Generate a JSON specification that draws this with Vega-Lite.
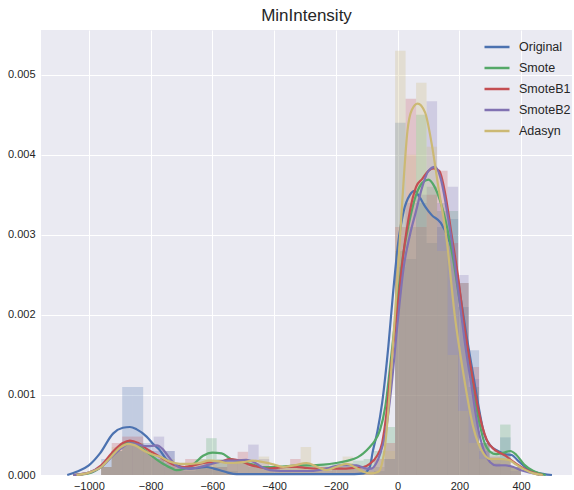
{
"$schema":"https://vega.github.io/schema/vega-lite/v6.json",
"width":531,"height":445,
"autosize":{"type":"none"},
"padding":{"left":41,"top":30,"right":2,"bottom":15},
"background":"white",
"title":{"text":"MinIntensity","fontSize":17,"font":"Liberation Sans","fontWeight":"normal","color":"#262626","offset":5},
"config":{"view":{"fill":"#EAEAF2","stroke":null},
"axis":{"grid":true,"gridColor":"white","gridWidth":1,"domain":false,"ticks":false,"labelFont":"Liberation Sans","labelFontSize":11,"labelColor":"#262626","title":null},
"legend":{"title":null,"orient":"none","legendX":442,"legendY":3,"symbolType":"stroke","symbolStrokeWidth":2.5,"symbolSize":625,"symbolOpacity":1,"labelFontSize":12.5,"labelFont":"Liberation Sans","labelColor":"#262626","rowPadding":-1,"labelOffset":8}},
"datasets":{
"hist":[
{"s":"Original","a":-960,"b":-926,"d":0.0002},{"s":"Original","a":-926,"b":-892,"d":0.0003},{"s":"Original","a":-892,"b":-858,"d":0.0011},{"s":"Original","a":-858,"b":-824,"d":0.0011},{"s":"Original","a":-824,"b":-790,"d":0.0004},{"s":"Original","a":-790,"b":-756,"d":0.0003},{"s":"Original","a":-756,"b":-722,"d":0.0003},{"s":"Original","a":-722,"b":-688,"d":0.0001},{"s":"Original","a":-688,"b":-654,"d":0.00005},{"s":"Original","a":-654,"b":-620,"d":0.0001},{"s":"Original","a":-620,"b":-586,"d":0.0001},{"s":"Original","a":-586,"b":-552,"d":0.0001},{"s":"Original","a":-552,"b":-518,"d":0.00005},{"s":"Original","a":-76,"b":-42,"d":0.00005},{"s":"Original","a":-42,"b":-8,"d":0.0002},{"s":"Original","a":-8,"b":26,"d":0.0044},{"s":"Original","a":26,"b":60,"d":0.0027},{"s":"Original","a":60,"b":94,"d":0.0034},{"s":"Original","a":94,"b":128,"d":0.0029},{"s":"Original","a":128,"b":162,"d":0.0031},{"s":"Original","a":162,"b":196,"d":0.0032},{"s":"Original","a":196,"b":230,"d":0.0021},{"s":"Original","a":230,"b":264,"d":0.00156},{"s":"Original","a":264,"b":298,"d":0.0004},{"s":"Original","a":298,"b":332,"d":0.0002},{"s":"Original","a":332,"b":366,"d":0.00047},{"s":"Original","a":366,"b":400,"d":0.0001},
{"s":"Smote","a":-960,"b":-926,"d":0.0001},{"s":"Smote","a":-926,"b":-892,"d":0.0003},{"s":"Smote","a":-892,"b":-858,"d":0.0004},{"s":"Smote","a":-858,"b":-824,"d":0.0004},{"s":"Smote","a":-824,"b":-790,"d":0.0003},{"s":"Smote","a":-790,"b":-756,"d":0.0002},{"s":"Smote","a":-756,"b":-722,"d":0.0001},{"s":"Smote","a":-722,"b":-688,"d":0.00005},{"s":"Smote","a":-688,"b":-654,"d":0.0001},{"s":"Smote","a":-654,"b":-620,"d":0.0002},{"s":"Smote","a":-620,"b":-586,"d":0.00046},{"s":"Smote","a":-586,"b":-552,"d":0.0002},{"s":"Smote","a":-552,"b":-518,"d":0.0002},{"s":"Smote","a":-518,"b":-484,"d":0.00015},{"s":"Smote","a":-484,"b":-450,"d":0.0001},{"s":"Smote","a":-450,"b":-416,"d":0.0001},{"s":"Smote","a":-416,"b":-382,"d":0.0001},{"s":"Smote","a":-382,"b":-348,"d":0.0001},{"s":"Smote","a":-348,"b":-314,"d":0.0001},{"s":"Smote","a":-314,"b":-280,"d":0.00012},{"s":"Smote","a":-280,"b":-246,"d":0.00012},{"s":"Smote","a":-246,"b":-212,"d":0.00012},{"s":"Smote","a":-212,"b":-178,"d":0.00015},{"s":"Smote","a":-178,"b":-144,"d":0.00015},{"s":"Smote","a":-144,"b":-110,"d":0.00018},{"s":"Smote","a":-110,"b":-76,"d":0.0002},{"s":"Smote","a":-76,"b":-42,"d":0.0003},{"s":"Smote","a":-42,"b":-8,"d":0.0006},{"s":"Smote","a":-8,"b":26,"d":0.0028},{"s":"Smote","a":26,"b":60,"d":0.0031},{"s":"Smote","a":60,"b":94,"d":0.0045},{"s":"Smote","a":94,"b":128,"d":0.0036},{"s":"Smote","a":128,"b":162,"d":0.0033},{"s":"Smote","a":162,"b":196,"d":0.0033},{"s":"Smote","a":196,"b":230,"d":0.0024},{"s":"Smote","a":230,"b":264,"d":0.0011},{"s":"Smote","a":264,"b":298,"d":0.0004},{"s":"Smote","a":298,"b":332,"d":0.0003},{"s":"Smote","a":332,"b":366,"d":0.00063},{"s":"Smote","a":366,"b":400,"d":0.0001},
{"s":"SmoteB1","a":-960,"b":-926,"d":0.0001},{"s":"SmoteB1","a":-926,"b":-892,"d":0.0004},{"s":"SmoteB1","a":-892,"b":-858,"d":0.00048},{"s":"SmoteB1","a":-858,"b":-824,"d":0.00048},{"s":"SmoteB1","a":-824,"b":-790,"d":0.0003},{"s":"SmoteB1","a":-790,"b":-756,"d":0.0002},{"s":"SmoteB1","a":-756,"b":-722,"d":0.00015},{"s":"SmoteB1","a":-722,"b":-688,"d":0.0001},{"s":"SmoteB1","a":-688,"b":-654,"d":0.0002},{"s":"SmoteB1","a":-654,"b":-620,"d":0.00015},{"s":"SmoteB1","a":-620,"b":-586,"d":0.00015},{"s":"SmoteB1","a":-586,"b":-552,"d":0.0001},{"s":"SmoteB1","a":-552,"b":-518,"d":0.00015},{"s":"SmoteB1","a":-518,"b":-484,"d":0.00029},{"s":"SmoteB1","a":-484,"b":-450,"d":0.00015},{"s":"SmoteB1","a":-450,"b":-416,"d":0.0001},{"s":"SmoteB1","a":-416,"b":-382,"d":0.0001},{"s":"SmoteB1","a":-382,"b":-348,"d":0.0001},{"s":"SmoteB1","a":-348,"b":-314,"d":0.0002},{"s":"SmoteB1","a":-314,"b":-280,"d":0.0001},{"s":"SmoteB1","a":-280,"b":-246,"d":0.0001},{"s":"SmoteB1","a":-246,"b":-212,"d":0.00008},{"s":"SmoteB1","a":-212,"b":-178,"d":0.0001},{"s":"SmoteB1","a":-178,"b":-144,"d":0.00008},{"s":"SmoteB1","a":-144,"b":-110,"d":0.0001},{"s":"SmoteB1","a":-110,"b":-76,"d":0.0001},{"s":"SmoteB1","a":-76,"b":-42,"d":0.0002},{"s":"SmoteB1","a":-42,"b":-8,"d":0.0004},{"s":"SmoteB1","a":-8,"b":26,"d":0.0031},{"s":"SmoteB1","a":26,"b":60,"d":0.0047},{"s":"SmoteB1","a":60,"b":94,"d":0.0031},{"s":"SmoteB1","a":94,"b":128,"d":0.0035},{"s":"SmoteB1","a":128,"b":162,"d":0.0038},{"s":"SmoteB1","a":162,"b":196,"d":0.0029},{"s":"SmoteB1","a":196,"b":230,"d":0.0024},{"s":"SmoteB1","a":230,"b":264,"d":0.00135},{"s":"SmoteB1","a":264,"b":298,"d":0.0004},{"s":"SmoteB1","a":298,"b":332,"d":0.00023},{"s":"SmoteB1","a":332,"b":366,"d":0.0002},{"s":"SmoteB1","a":366,"b":400,"d":0.0001},
{"s":"SmoteB2","a":-960,"b":-926,"d":0.0001},{"s":"SmoteB2","a":-926,"b":-892,"d":0.0003},{"s":"SmoteB2","a":-892,"b":-858,"d":0.0004},{"s":"SmoteB2","a":-858,"b":-824,"d":0.0004},{"s":"SmoteB2","a":-824,"b":-790,"d":0.0003},{"s":"SmoteB2","a":-790,"b":-756,"d":0.00048},{"s":"SmoteB2","a":-756,"b":-722,"d":0.0003},{"s":"SmoteB2","a":-722,"b":-688,"d":0.0001},{"s":"SmoteB2","a":-688,"b":-654,"d":0.0001},{"s":"SmoteB2","a":-654,"b":-620,"d":0.0001},{"s":"SmoteB2","a":-620,"b":-586,"d":0.0001},{"s":"SmoteB2","a":-586,"b":-552,"d":0.00015},{"s":"SmoteB2","a":-552,"b":-518,"d":0.00015},{"s":"SmoteB2","a":-518,"b":-484,"d":0.0002},{"s":"SmoteB2","a":-484,"b":-450,"d":0.00038},{"s":"SmoteB2","a":-450,"b":-416,"d":0.0002},{"s":"SmoteB2","a":-416,"b":-382,"d":0.0001},{"s":"SmoteB2","a":-382,"b":-348,"d":0.00005},{"s":"SmoteB2","a":-348,"b":-314,"d":0.00005},{"s":"SmoteB2","a":-314,"b":-280,"d":0.00005},{"s":"SmoteB2","a":-280,"b":-246,"d":0.00005},{"s":"SmoteB2","a":-246,"b":-212,"d":0.00005},{"s":"SmoteB2","a":-212,"b":-178,"d":0.0001},{"s":"SmoteB2","a":-178,"b":-144,"d":0.0001},{"s":"SmoteB2","a":-144,"b":-110,"d":0.0001},{"s":"SmoteB2","a":-110,"b":-76,"d":0.00008},{"s":"SmoteB2","a":-76,"b":-42,"d":0.0001},{"s":"SmoteB2","a":-42,"b":-8,"d":0.0002},{"s":"SmoteB2","a":-8,"b":26,"d":0.0026},{"s":"SmoteB2","a":26,"b":60,"d":0.0034},{"s":"SmoteB2","a":60,"b":94,"d":0.0035},{"s":"SmoteB2","a":94,"b":128,"d":0.00467},{"s":"SmoteB2","a":128,"b":162,"d":0.0034},{"s":"SmoteB2","a":162,"b":196,"d":0.0036},{"s":"SmoteB2","a":196,"b":230,"d":0.0025},{"s":"SmoteB2","a":230,"b":264,"d":0.0012},{"s":"SmoteB2","a":264,"b":298,"d":0.0003},{"s":"SmoteB2","a":298,"b":332,"d":0.00015},{"s":"SmoteB2","a":332,"b":366,"d":0.0001},{"s":"SmoteB2","a":366,"b":400,"d":0.00005},
{"s":"Adasyn","a":-960,"b":-926,"d":0.0001},{"s":"Adasyn","a":-926,"b":-892,"d":0.00035},{"s":"Adasyn","a":-892,"b":-858,"d":0.0004},{"s":"Adasyn","a":-858,"b":-824,"d":0.0004},{"s":"Adasyn","a":-824,"b":-790,"d":0.0003},{"s":"Adasyn","a":-790,"b":-756,"d":0.0002},{"s":"Adasyn","a":-756,"b":-722,"d":0.0002},{"s":"Adasyn","a":-722,"b":-688,"d":0.00015},{"s":"Adasyn","a":-688,"b":-654,"d":0.00015},{"s":"Adasyn","a":-654,"b":-620,"d":0.0002},{"s":"Adasyn","a":-620,"b":-586,"d":0.0002},{"s":"Adasyn","a":-586,"b":-552,"d":0.00015},{"s":"Adasyn","a":-552,"b":-518,"d":0.00015},{"s":"Adasyn","a":-518,"b":-484,"d":0.0002},{"s":"Adasyn","a":-484,"b":-450,"d":0.00015},{"s":"Adasyn","a":-450,"b":-416,"d":0.00023},{"s":"Adasyn","a":-416,"b":-382,"d":0.0001},{"s":"Adasyn","a":-382,"b":-348,"d":0.0001},{"s":"Adasyn","a":-348,"b":-314,"d":0.0001},{"s":"Adasyn","a":-314,"b":-280,"d":0.00035},{"s":"Adasyn","a":-280,"b":-246,"d":0.0001},{"s":"Adasyn","a":-246,"b":-212,"d":0.00005},{"s":"Adasyn","a":-212,"b":-178,"d":0.0001},{"s":"Adasyn","a":-178,"b":-144,"d":0.00023},{"s":"Adasyn","a":-144,"b":-110,"d":0.0001},{"s":"Adasyn","a":-110,"b":-76,"d":0.00005},{"s":"Adasyn","a":-76,"b":-42,"d":0.0001},{"s":"Adasyn","a":-42,"b":-8,"d":0.0003},{"s":"Adasyn","a":-8,"b":26,"d":0.0053},{"s":"Adasyn","a":26,"b":60,"d":0.004},{"s":"Adasyn","a":60,"b":94,"d":0.0049},{"s":"Adasyn","a":94,"b":128,"d":0.0041},{"s":"Adasyn","a":128,"b":162,"d":0.0028},{"s":"Adasyn","a":162,"b":196,"d":0.0015},{"s":"Adasyn","a":196,"b":230,"d":0.0008},{"s":"Adasyn","a":230,"b":264,"d":0.0004},{"s":"Adasyn","a":264,"b":298,"d":0.0002},{"s":"Adasyn","a":298,"b":332,"d":0.0002},{"s":"Adasyn","a":332,"b":366,"d":0.0002},{"s":"Adasyn","a":366,"b":400,"d":0.0001}
],
"kde":[
{"s":"Original","x":-1070,"y":0},{"s":"Original","x":-1040,"y":0.00004},{"s":"Original","x":-1000,"y":0.00012},{"s":"Original","x":-964,"y":0.00027},{"s":"Original","x":-921,"y":0.00052},{"s":"Original","x":-890,"y":0.00059},{"s":"Original","x":-867,"y":0.0006},{"s":"Original","x":-845,"y":0.00057},{"s":"Original","x":-813,"y":0.00048},{"s":"Original","x":-790,"y":0.00038},{"s":"Original","x":-770,"y":0.00031},{"s":"Original","x":-750,"y":0.0002},{"s":"Original","x":-727,"y":0.00014},{"s":"Original","x":-700,"y":0.0001},{"s":"Original","x":-673,"y":0.00008},{"s":"Original","x":-645,"y":0.00009},{"s":"Original","x":-619,"y":0.0001},{"s":"Original","x":-595,"y":0.00008},{"s":"Original","x":-575,"y":0.00006},{"s":"Original","x":-550,"y":0.00003},{"s":"Original","x":-521,"y":0.00001},{"s":"Original","x":-450,"y":0.00001},{"s":"Original","x":-300,"y":0.00001},{"s":"Original","x":-200,"y":0.00001},{"s":"Original","x":-140,"y":0.00001},{"s":"Original","x":-110,"y":0.00002},{"s":"Original","x":-90,"y":0.0001},{"s":"Original","x":-80,"y":0.0003},{"s":"Original","x":-65,"y":0.00055},{"s":"Original","x":-50,"y":0.0009},{"s":"Original","x":-30,"y":0.0016},{"s":"Original","x":-14,"y":0.0023},{"s":"Original","x":2,"y":0.0029},{"s":"Original","x":20,"y":0.0033},{"s":"Original","x":40,"y":0.0035},{"s":"Original","x":55,"y":0.00355},{"s":"Original","x":70,"y":0.00348},{"s":"Original","x":90,"y":0.00335},{"s":"Original","x":110,"y":0.00325},{"s":"Original","x":140,"y":0.00315},{"s":"Original","x":165,"y":0.00295},{"s":"Original","x":185,"y":0.0027},{"s":"Original","x":205,"y":0.0022},{"s":"Original","x":225,"y":0.0017},{"s":"Original","x":245,"y":0.00125},{"s":"Original","x":265,"y":0.0008},{"s":"Original","x":280,"y":0.00052},{"s":"Original","x":300,"y":0.00037},{"s":"Original","x":325,"y":0.0003},{"s":"Original","x":350,"y":0.00026},{"s":"Original","x":370,"y":0.00025},{"s":"Original","x":390,"y":0.00018},{"s":"Original","x":420,"y":0.00008},{"s":"Original","x":450,"y":0.00003},{"s":"Original","x":500,"y":0},
{"s":"Smote","x":-1050,"y":0},{"s":"Smote","x":-1000,"y":0.00002},{"s":"Smote","x":-960,"y":0.0001},{"s":"Smote","x":-920,"y":0.00027},{"s":"Smote","x":-890,"y":0.00037},{"s":"Smote","x":-867,"y":0.00041},{"s":"Smote","x":-840,"y":0.00037},{"s":"Smote","x":-800,"y":0.00025},{"s":"Smote","x":-760,"y":0.00014},{"s":"Smote","x":-730,"y":0.00008},{"s":"Smote","x":-716,"y":0.00006},{"s":"Smote","x":-690,"y":0.00008},{"s":"Smote","x":-660,"y":0.00014},{"s":"Smote","x":-630,"y":0.00024},{"s":"Smote","x":-600,"y":0.00028},{"s":"Smote","x":-570,"y":0.00027},{"s":"Smote","x":-540,"y":0.0002},{"s":"Smote","x":-510,"y":0.00017},{"s":"Smote","x":-478,"y":0.00014},{"s":"Smote","x":-440,"y":0.0001},{"s":"Smote","x":-400,"y":0.0001},{"s":"Smote","x":-360,"y":0.00011},{"s":"Smote","x":-320,"y":0.00012},{"s":"Smote","x":-280,"y":0.00012},{"s":"Smote","x":-240,"y":0.00013},{"s":"Smote","x":-200,"y":0.00015},{"s":"Smote","x":-160,"y":0.00018},{"s":"Smote","x":-130,"y":0.00022},{"s":"Smote","x":-111,"y":0.00027},{"s":"Smote","x":-90,"y":0.00035},{"s":"Smote","x":-75,"y":0.00042},{"s":"Smote","x":-57,"y":0.00056},{"s":"Smote","x":-40,"y":0.00085},{"s":"Smote","x":-20,"y":0.0015},{"s":"Smote","x":0,"y":0.0022},{"s":"Smote","x":20,"y":0.0028},{"s":"Smote","x":40,"y":0.0032},{"s":"Smote","x":60,"y":0.0035},{"s":"Smote","x":80,"y":0.00365},{"s":"Smote","x":100,"y":0.00369},{"s":"Smote","x":120,"y":0.0036},{"s":"Smote","x":140,"y":0.0034},{"s":"Smote","x":160,"y":0.0031},{"s":"Smote","x":180,"y":0.0027},{"s":"Smote","x":200,"y":0.0022},{"s":"Smote","x":220,"y":0.0017},{"s":"Smote","x":240,"y":0.0012},{"s":"Smote","x":260,"y":0.00075},{"s":"Smote","x":280,"y":0.00042},{"s":"Smote","x":300,"y":0.00029},{"s":"Smote","x":320,"y":0.00026},{"s":"Smote","x":345,"y":0.00028},{"s":"Smote","x":365,"y":0.0003},{"s":"Smote","x":385,"y":0.00025},{"s":"Smote","x":410,"y":0.00013},{"s":"Smote","x":440,"y":0.00005},{"s":"Smote","x":480,"y":0},
{"s":"SmoteB1","x":-1050,"y":0},{"s":"SmoteB1","x":-1000,"y":0.00003},{"s":"SmoteB1","x":-960,"y":0.00012},{"s":"SmoteB1","x":-920,"y":0.0003},{"s":"SmoteB1","x":-890,"y":0.0004},{"s":"SmoteB1","x":-867,"y":0.00043},{"s":"SmoteB1","x":-840,"y":0.0004},{"s":"SmoteB1","x":-810,"y":0.00032},{"s":"SmoteB1","x":-780,"y":0.00025},{"s":"SmoteB1","x":-750,"y":0.00018},{"s":"SmoteB1","x":-720,"y":0.00012},{"s":"SmoteB1","x":-690,"y":0.0001},{"s":"SmoteB1","x":-660,"y":0.00012},{"s":"SmoteB1","x":-630,"y":0.00015},{"s":"SmoteB1","x":-600,"y":0.00016},{"s":"SmoteB1","x":-570,"y":0.00017},{"s":"SmoteB1","x":-543,"y":0.0002},{"s":"SmoteB1","x":-510,"y":0.00018},{"s":"SmoteB1","x":-480,"y":0.00013},{"s":"SmoteB1","x":-450,"y":0.0001},{"s":"SmoteB1","x":-420,"y":0.00008},{"s":"SmoteB1","x":-390,"y":0.00009},{"s":"SmoteB1","x":-360,"y":0.0001},{"s":"SmoteB1","x":-327,"y":0.0001},{"s":"SmoteB1","x":-300,"y":0.00009},{"s":"SmoteB1","x":-260,"y":0.00008},{"s":"SmoteB1","x":-219,"y":0.00008},{"s":"SmoteB1","x":-180,"y":0.00008},{"s":"SmoteB1","x":-140,"y":0.00009},{"s":"SmoteB1","x":-111,"y":0.0001},{"s":"SmoteB1","x":-90,"y":0.00014},{"s":"SmoteB1","x":-68,"y":0.00023},{"s":"SmoteB1","x":-50,"y":0.0004},{"s":"SmoteB1","x":-35,"y":0.0008},{"s":"SmoteB1","x":-20,"y":0.0014},{"s":"SmoteB1","x":0,"y":0.0021},{"s":"SmoteB1","x":20,"y":0.0028},{"s":"SmoteB1","x":40,"y":0.0033},{"s":"SmoteB1","x":60,"y":0.0036},{"s":"SmoteB1","x":80,"y":0.0037},{"s":"SmoteB1","x":100,"y":0.0038},{"s":"SmoteB1","x":116,"y":0.00383},{"s":"SmoteB1","x":135,"y":0.0038},{"s":"SmoteB1","x":155,"y":0.0035},{"s":"SmoteB1","x":175,"y":0.003},{"s":"SmoteB1","x":195,"y":0.0025},{"s":"SmoteB1","x":215,"y":0.0019},{"s":"SmoteB1","x":235,"y":0.0014},{"s":"SmoteB1","x":255,"y":0.00095},{"s":"SmoteB1","x":275,"y":0.0006},{"s":"SmoteB1","x":290,"y":0.00043},{"s":"SmoteB1","x":310,"y":0.00033},{"s":"SmoteB1","x":330,"y":0.00028},{"s":"SmoteB1","x":350,"y":0.00024},{"s":"SmoteB1","x":370,"y":0.00018},{"s":"SmoteB1","x":400,"y":0.0001},{"s":"SmoteB1","x":430,"y":0.00004},{"s":"SmoteB1","x":470,"y":0},
{"s":"SmoteB2","x":-1050,"y":0},{"s":"SmoteB2","x":-1000,"y":0.00003},{"s":"SmoteB2","x":-960,"y":0.0001},{"s":"SmoteB2","x":-920,"y":0.00025},{"s":"SmoteB2","x":-890,"y":0.00035},{"s":"SmoteB2","x":-867,"y":0.0004},{"s":"SmoteB2","x":-840,"y":0.00038},{"s":"SmoteB2","x":-810,"y":0.00036},{"s":"SmoteB2","x":-780,"y":0.00037},{"s":"SmoteB2","x":-760,"y":0.00032},{"s":"SmoteB2","x":-740,"y":0.00022},{"s":"SmoteB2","x":-720,"y":0.00013},{"s":"SmoteB2","x":-700,"y":0.00009},{"s":"SmoteB2","x":-670,"y":0.00008},{"s":"SmoteB2","x":-640,"y":0.0001},{"s":"SmoteB2","x":-610,"y":0.00013},{"s":"SmoteB2","x":-580,"y":0.00016},{"s":"SmoteB2","x":-550,"y":0.00018},{"s":"SmoteB2","x":-520,"y":0.00018},{"s":"SmoteB2","x":-490,"y":0.00019},{"s":"SmoteB2","x":-470,"y":0.00017},{"s":"SmoteB2","x":-440,"y":0.0001},{"s":"SmoteB2","x":-413,"y":0.00006},{"s":"SmoteB2","x":-380,"y":0.00005},{"s":"SmoteB2","x":-327,"y":0.00005},{"s":"SmoteB2","x":-280,"y":0.00005},{"s":"SmoteB2","x":-230,"y":0.00008},{"s":"SmoteB2","x":-187,"y":0.00012},{"s":"SmoteB2","x":-133,"y":0.00012},{"s":"SmoteB2","x":-100,"y":0.00008},{"s":"SmoteB2","x":-85,"y":0.00008},{"s":"SmoteB2","x":-70,"y":0.00014},{"s":"SmoteB2","x":-55,"y":0.00028},{"s":"SmoteB2","x":-40,"y":0.0005},{"s":"SmoteB2","x":-20,"y":0.0011},{"s":"SmoteB2","x":0,"y":0.0019},{"s":"SmoteB2","x":20,"y":0.0026},{"s":"SmoteB2","x":40,"y":0.003},{"s":"SmoteB2","x":60,"y":0.0033},{"s":"SmoteB2","x":80,"y":0.0036},{"s":"SmoteB2","x":100,"y":0.0038},{"s":"SmoteB2","x":121,"y":0.00385},{"s":"SmoteB2","x":140,"y":0.0037},{"s":"SmoteB2","x":160,"y":0.0033},{"s":"SmoteB2","x":180,"y":0.0028},{"s":"SmoteB2","x":200,"y":0.0022},{"s":"SmoteB2","x":220,"y":0.0016},{"s":"SmoteB2","x":240,"y":0.0011},{"s":"SmoteB2","x":260,"y":0.0006},{"s":"SmoteB2","x":280,"y":0.0003},{"s":"SmoteB2","x":300,"y":0.00016},{"s":"SmoteB2","x":320,"y":0.00012},{"s":"SmoteB2","x":350,"y":0.00012},{"s":"SmoteB2","x":375,"y":0.0001},{"s":"SmoteB2","x":400,"y":0.00006},{"s":"SmoteB2","x":430,"y":0.00003},{"s":"SmoteB2","x":460,"y":0},
{"s":"Adasyn","x":-1040,"y":0},{"s":"Adasyn","x":-1000,"y":0.00003},{"s":"Adasyn","x":-960,"y":0.0001},{"s":"Adasyn","x":-930,"y":0.00022},{"s":"Adasyn","x":-900,"y":0.00034},{"s":"Adasyn","x":-870,"y":0.00039},{"s":"Adasyn","x":-850,"y":0.00037},{"s":"Adasyn","x":-820,"y":0.0003},{"s":"Adasyn","x":-790,"y":0.00025},{"s":"Adasyn","x":-770,"y":0.00023},{"s":"Adasyn","x":-740,"y":0.00017},{"s":"Adasyn","x":-705,"y":0.00014},{"s":"Adasyn","x":-670,"y":0.00014},{"s":"Adasyn","x":-640,"y":0.00015},{"s":"Adasyn","x":-610,"y":0.00018},{"s":"Adasyn","x":-580,"y":0.00017},{"s":"Adasyn","x":-550,"y":0.00015},{"s":"Adasyn","x":-532,"y":0.00015},{"s":"Adasyn","x":-500,"y":0.00016},{"s":"Adasyn","x":-470,"y":0.00018},{"s":"Adasyn","x":-436,"y":0.00016},{"s":"Adasyn","x":-400,"y":0.00013},{"s":"Adasyn","x":-371,"y":0.0001},{"s":"Adasyn","x":-335,"y":0.00012},{"s":"Adasyn","x":-295,"y":0.00015},{"s":"Adasyn","x":-260,"y":0.0001},{"s":"Adasyn","x":-230,"y":0.00006},{"s":"Adasyn","x":-200,"y":0.0001},{"s":"Adasyn","x":-165,"y":0.00014},{"s":"Adasyn","x":-135,"y":0.00009},{"s":"Adasyn","x":-111,"y":0.00004},{"s":"Adasyn","x":-85,"y":0.00002},{"s":"Adasyn","x":-62,"y":0.00004},{"s":"Adasyn","x":-50,"y":0.00015},{"s":"Adasyn","x":-41,"y":0.00035},{"s":"Adasyn","x":-25,"y":0.00106},{"s":"Adasyn","x":-12,"y":0.0018},{"s":"Adasyn","x":0,"y":0.0025},{"s":"Adasyn","x":10,"y":0.0031},{"s":"Adasyn","x":20,"y":0.0037},{"s":"Adasyn","x":32,"y":0.0043},{"s":"Adasyn","x":46,"y":0.00456},{"s":"Adasyn","x":65,"y":0.00464},{"s":"Adasyn","x":89,"y":0.00453},{"s":"Adasyn","x":110,"y":0.00415},{"s":"Adasyn","x":132,"y":0.0036},{"s":"Adasyn","x":159,"y":0.00294},{"s":"Adasyn","x":185,"y":0.002},{"s":"Adasyn","x":213,"y":0.00127},{"s":"Adasyn","x":245,"y":0.0006},{"s":"Adasyn","x":278,"y":0.00027},{"s":"Adasyn","x":300,"y":0.0002},{"s":"Adasyn","x":330,"y":0.0002},{"s":"Adasyn","x":360,"y":0.00019},{"s":"Adasyn","x":380,"y":0.00014},{"s":"Adasyn","x":410,"y":0.00007},{"s":"Adasyn","x":440,"y":0.00002},{"s":"Adasyn","x":470,"y":0}
]},
"layer":[
{"data":{"name":"hist"},
"mark":{"type":"rect","opacity":0.25},
"encoding":{
"x":{"field":"a","type":"quantitative","scale":{"domain":[-1155,565],"nice":false,"zero":false},"axis":{"values":[-1000,-800,-600,-400,-200,0,200,400],"format":"d","labelPadding":5}},
"x2":{"field":"b"},
"y":{"field":"d","type":"quantitative","scale":{"domain":[0,0.00556],"nice":false},"axis":{"values":[0,0.001,0.002,0.003,0.004,0.005],"format":".3f","labelPadding":6}},
"y2":{"datum":0},
"color":{"field":"s","type":"nominal","sort":["Original","Smote","SmoteB1","SmoteB2","Adasyn"],"scale":{"domain":["Original","Smote","SmoteB1","SmoteB2","Adasyn"],"range":["#4C72B0","#55A868","#C44E52","#8172B2","#CCB974"]}}
}},
{"data":{"name":"kde"},
"mark":{"type":"line","strokeWidth":2.2,"interpolate":"monotone"},
"encoding":{
"x":{"field":"x","type":"quantitative"},
"y":{"field":"y","type":"quantitative"},
"color":{"field":"s","type":"nominal","sort":["Original","Smote","SmoteB1","SmoteB2","Adasyn"]}
}}
]
}
